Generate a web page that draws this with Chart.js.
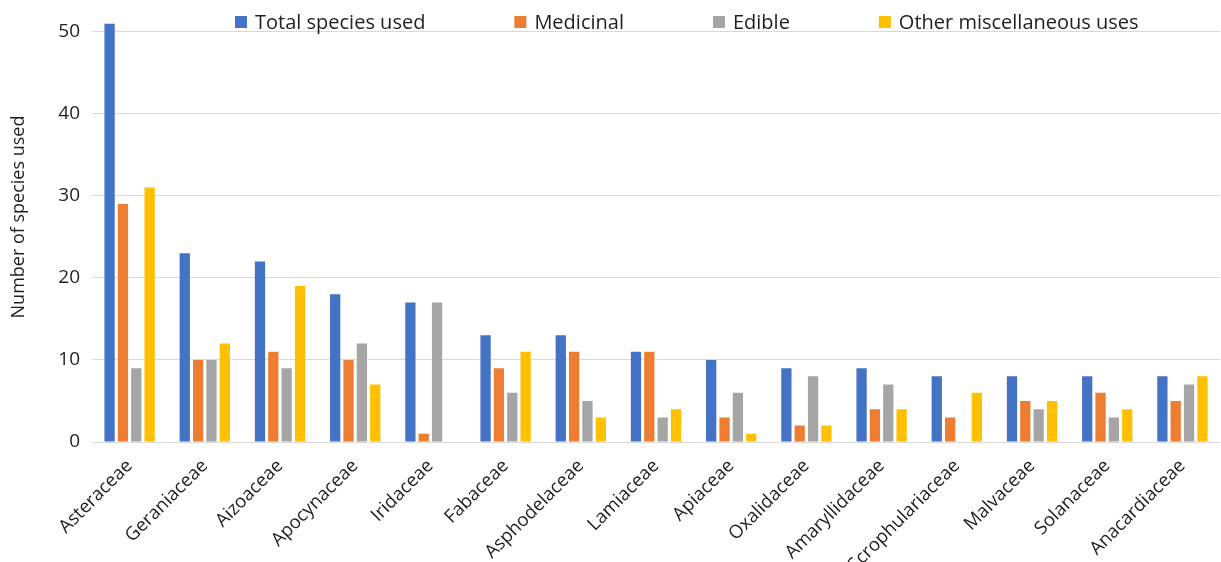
<!DOCTYPE html>
<html>
<head>
<meta charset="utf-8">
<script src="https://cdn.jsdelivr.net/npm/chart.js@4/dist/chart.umd.min.js"></script>
<style>
  html, body { margin: 0; padding: 0; background: #ffffff; }
  #wrap { width: 1221px; height: 562px; position: relative; }
</style>
</head>
<body>
<div id="wrap"><canvas id="chart" width="1221" height="562"></canvas></div>
<script>
// Plant families, ordered by total number of species used
const families = [
  'Asteraceae', 'Geraniaceae', 'Aizoaceae', 'Apocynaceae', 'Iridaceae',
  'Fabaceae', 'Asphodelaceae', 'Lamiaceae', 'Apiaceae', 'Oxalidaceae',
  'Amaryllidaceae', 'Scrophulariaceae', 'Malvaceae', 'Solanaceae', 'Anacardiaceae'
];

const seriesNames = ['Total species used', 'Medicinal', 'Edible', 'Other miscellaneous uses'];

const totalUsed = [51, 23, 22, 18, 17, 13, 13, 11, 10, 9, 9, 8, 8, 8, 8];
const medicinal = [29, 10, 11, 10, 1, 9, 11, 11, 3, 2, 4, 3, 5, 6, 5];
const edible    = [9, 10, 9, 12, 17, 6, 5, 3, 6, 8, 7, 0, 4, 3, 7];
const otherUses = [31, 12, 19, 7, 0, 11, 3, 4, 1, 2, 4, 6, 5, 4, 8];

const yTicks = [0, 10, 20, 30, 40, 50];
const yTitle = 'Number of species used';

const colors = ['#4472C4', '#ED7D31', '#A5A5A5', '#FFC000'];
const FONT = '"Open Sans", "Noto Sans", sans-serif';
const TEXT = '#1f1f1f';

// Legend drawn across the top of the plot, over the gridlines
const topLegend = {
  id: 'topLegend',
  afterDraw(chart, args, opts) {
    const ctx = chart.ctx;
    ctx.save();
    ctx.font = opts.fontSize + 'px ' + FONT;
    ctx.textBaseline = 'middle';
    ctx.textAlign = 'left';
    let x = opts.x;
    chart.data.datasets.forEach((ds) => {
      ctx.fillStyle = ds.backgroundColor;
      ctx.fillRect(x, opts.y - opts.box / 2, opts.box, opts.box);
      x += opts.box + opts.textGap;
      ctx.fillStyle = TEXT;
      ctx.fillText(ds.label, x, opts.y + 1);
      x += ctx.measureText(ds.label).width + opts.itemGap;
    });
    ctx.restore();
  }
};

// Vertical value-axis title, placed a little above the plot's middle
const axisTitle = {
  id: 'axisTitle',
  afterDraw(chart, args, opts) {
    const ctx = chart.ctx;
    ctx.save();
    ctx.translate(opts.x, opts.y);
    ctx.rotate(-Math.PI / 2);
    ctx.font = opts.fontSize + 'px ' + FONT;
    ctx.fillStyle = TEXT;
    ctx.textAlign = 'center';
    ctx.textBaseline = 'middle';
    ctx.fillText(opts.text, 0, 0);
    ctx.restore();
  }
};

const datasets = [totalUsed, medicinal, edible, otherUses].map((vals, i) => ({
  label: seriesNames[i],
  data: vals,
  backgroundColor: colors[i],
  borderWidth: 0,
  categoryPercentage: 0.71,
  barPercentage: 0.77
}));

new Chart(document.getElementById('chart'), {
  type: 'bar',
  data: { labels: families, datasets },
  plugins: [topLegend, axisTitle],
  options: {
    responsive: false,
    animation: false,
    layout: { padding: { top: 14, right: 1, left: 0, bottom: 0 } },
    plugins: {
      legend: { display: false },
      tooltip: { enabled: false },
      topLegend: { x: 235, y: 22, box: 12, textGap: 8, itemGap: 89, fontSize: 20 },
      axisTitle: { text: yTitle, x: 19, y: 217, fontSize: 18 }
    },
    scales: {
      x: {
        grid: { display: false },
        border: { display: false },
        ticks: {
          minRotation: 45,
          maxRotation: 45,
          autoSkip: false,
          padding: 5,
          color: TEXT,
          font: { family: FONT, size: 18.5 }
        },
        afterFit(scale) { scale.height = 120; }
      },
      y: {
        min: 0,
        max: 51,
        afterBuildTicks(scale) { scale.ticks = yTicks.map(v => ({ value: v })); },
        grid: { color: '#d9d9d9', lineWidth: 1, drawTicks: false },
        border: { display: false },
        ticks: {
          padding: 12,
          color: TEXT,
          font: { family: FONT, size: 19 }
        },
        afterFit(scale) { scale.width = 92; }
      }
    }
  }
});
</script>
</body>
</html>
